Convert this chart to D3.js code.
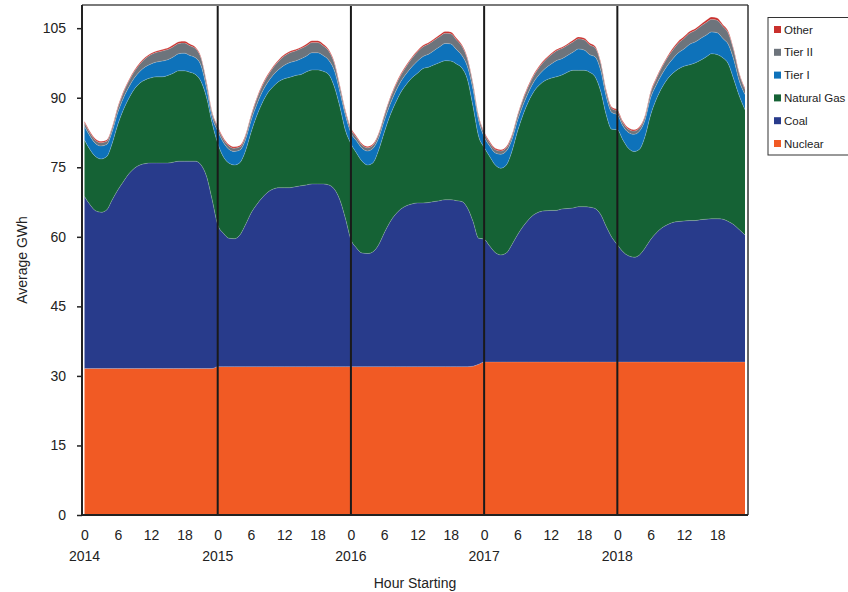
<!DOCTYPE html>
<html><head><meta charset="utf-8">
<script src="https://cdn.jsdelivr.net/npm/d3@7"></script>
<style>
html,body{margin:0;padding:0;background:#fff;}
svg{display:block;font-family:"Liberation Sans",Arial,sans-serif;}
</style></head>
<body><svg id="chart" width="848" height="592"></svg>
<script>
// ---- data (hourly averages, 24 per year) ----
const years = ["2014","2015","2016","2017","2018"];
const hourLabels = ["0","6","12","18"];
const hourTicks = [0,6,12,18];
const seriesNames = ["Nuclear","Coal","Natural Gas","Tier I","Tier II","Other"];
const colors = ["#F15A24","#283B8B","#156235","#0E72BA","#6D747C","#C9302C"];

const nuclear = [
 31.6,31.6,31.6,31.6,31.6,31.6,31.6,31.6,31.6,31.6,31.6,31.6,31.6,31.6,31.6,31.6,31.6,31.6,31.6,31.6,31.6,31.6,31.6,31.6,
 32.0,32.0,32.0,32.0,32.0,32.0,32.0,32.0,32.0,32.0,32.0,32.0,32.0,32.0,32.0,32.0,32.0,32.0,32.0,32.0,32.0,32.0,32.0,32.0,
 32.0,32.0,32.0,32.0,32.0,32.0,32.0,32.0,32.0,32.0,32.0,32.0,32.0,32.0,32.0,32.0,32.0,32.0,32.0,32.0,32.0,32.0,32.1,32.5,
 33.0,33.0,33.0,33.0,33.0,33.0,33.0,33.0,33.0,33.0,33.0,33.0,33.0,33.0,33.0,33.0,33.0,33.0,33.0,33.0,33.0,33.0,33.0,33.0,
 33.0,33.0,33.0,33.0,33.0,33.0,33.0,33.0,33.0,33.0,33.0,33.0,33.0,33.0,33.0,33.0,33.0,33.0,33.0,33.0,33.0,33.0,33.0,33.0];
const coal = [
 37.1,35.3,34.0,33.7,34.2,36.4,38.5,40.3,42.0,43.2,43.9,44.2,44.3,44.3,44.3,44.3,44.5,44.7,44.7,44.7,44.7,43.9,41.4,36.4,
 30.6,28.8,27.7,27.6,28.4,30.6,33.1,34.9,36.4,37.6,38.3,38.6,38.6,38.6,38.8,39.0,39.2,39.4,39.4,39.4,39.2,38.3,36.0,32.0,
 27.4,25.6,24.5,24.4,24.8,26.3,28.8,31.1,32.8,34.0,34.7,35.1,35.3,35.3,35.4,35.6,35.8,36.0,36.0,35.8,35.6,34.2,31.2,27.2,
 26.5,25.0,23.6,23.1,23.5,25.3,27.4,29.2,30.7,31.8,32.4,32.6,32.7,32.7,33.0,33.1,33.2,33.5,33.5,33.4,33.1,31.8,29.2,26.9,
 25.3,23.8,22.9,22.6,23.1,24.6,26.4,27.8,28.9,29.6,30.1,30.3,30.4,30.5,30.5,30.7,30.8,30.9,30.9,30.8,30.3,29.6,28.5,27.4];
const naturalGas = [
 12.2,11.9,11.7,11.5,11.5,12.2,14.1,15.5,16.3,17.1,17.7,18.1,18.4,18.6,18.6,18.9,19.2,19.5,19.5,19.2,18.7,18.0,17.0,16.5,
 17.6,16.5,16.2,15.9,15.6,15.9,17.4,19.1,20.4,21.4,22.1,22.9,23.5,23.8,24.0,24.0,24.4,24.6,24.6,24.3,23.8,22.1,20.1,19.0,
 20.7,20.5,19.8,19.1,19.2,20.4,21.7,22.9,24.0,25.2,26.2,27.2,28.0,29.0,29.2,29.5,29.8,30.0,29.9,29.5,28.8,27.7,24.8,22.0,
 19.8,19.3,18.9,18.7,19.0,20.1,22.3,24.1,25.5,26.6,27.4,28.1,28.5,28.8,28.9,29.4,29.7,29.4,29.4,29.1,28.4,26.6,24.1,23.3,
 24.8,24.1,23.2,22.8,22.8,24.1,26.9,28.8,30.2,31.4,32.2,32.9,33.4,33.6,34.0,34.4,35.0,35.6,35.4,34.8,34.0,31.3,28.8,27.0];
const tierI = [
 2.9,2.9,2.8,2.8,2.6,2.5,2.6,2.5,2.4,2.4,2.5,2.8,3.0,3.2,3.4,3.4,3.5,3.7,3.8,3.6,3.6,3.4,2.0,1.3,
 2.6,3.1,3.0,2.9,2.7,2.4,2.5,2.4,2.4,2.3,2.5,2.6,2.9,3.2,3.1,3.4,3.4,3.7,3.7,3.4,3.1,3.5,3.2,3.2,
 2.3,2.6,2.8,3.0,3.1,2.6,2.5,2.4,2.4,2.3,2.3,2.4,2.6,2.6,2.8,3.1,3.4,3.7,3.7,3.1,2.7,2.8,3.6,3.4,
 2.3,2.3,2.6,3.0,3.0,2.5,2.3,2.1,2.0,2.1,2.3,2.6,3.0,3.5,3.5,3.6,3.9,4.6,4.4,3.8,4.3,4.5,3.9,3.6,
 3.2,3.0,3.4,3.7,3.9,3.5,3.7,3.1,2.9,2.9,3.1,3.5,3.7,4.4,4.5,4.7,4.7,4.7,4.7,4.2,4.2,4.2,3.2,3.3];
const tierII = [
 0.8,0.7,0.7,0.7,0.7,0.8,1.0,1.2,1.3,1.4,1.6,1.8,2.0,2.1,2.2,2.2,2.2,2.2,2.2,2.1,2.0,1.6,1.2,0.9,
 0.8,0.7,0.7,0.7,0.7,0.8,1.0,1.2,1.3,1.4,1.6,1.8,2.0,2.1,2.2,2.2,2.2,2.2,2.2,2.1,2.0,1.6,1.2,0.9,
 0.8,0.7,0.7,0.7,0.7,0.8,1.0,1.2,1.3,1.4,1.6,1.8,2.0,2.1,2.2,2.2,2.2,2.2,2.2,2.1,2.0,1.6,1.2,0.9,
 0.8,0.7,0.7,0.7,0.7,0.8,1.0,1.2,1.3,1.4,1.6,1.8,2.0,2.1,2.2,2.2,2.2,2.2,2.2,2.1,2.0,1.6,1.2,0.9,
 0.8,0.7,0.7,0.7,0.7,0.8,1.1,1.3,1.5,1.7,1.9,2.1,2.3,2.4,2.5,2.6,2.7,2.7,2.7,2.6,2.4,2.0,1.5,1.1];
const other = [
 0.3,0.3,0.3,0.3,0.3,0.3,0.3,0.3,0.3,0.3,0.3,0.3,0.3,0.3,0.3,0.3,0.4,0.4,0.4,0.4,0.3,0.3,0.3,0.3,
 0.3,0.3,0.3,0.3,0.3,0.3,0.3,0.3,0.3,0.3,0.3,0.3,0.3,0.3,0.3,0.3,0.4,0.4,0.4,0.4,0.3,0.3,0.3,0.3,
 0.3,0.3,0.3,0.3,0.3,0.3,0.3,0.3,0.3,0.3,0.3,0.3,0.3,0.3,0.3,0.3,0.4,0.4,0.4,0.4,0.3,0.3,0.3,0.3,
 0.3,0.3,0.3,0.3,0.3,0.3,0.3,0.3,0.3,0.3,0.3,0.3,0.3,0.3,0.3,0.3,0.4,0.4,0.4,0.4,0.3,0.3,0.3,0.3,
 0.3,0.3,0.3,0.3,0.3,0.3,0.3,0.3,0.3,0.3,0.4,0.4,0.4,0.4,0.4,0.4,0.5,0.5,0.5,0.4,0.4,0.3,0.3,0.3];
const yTicks = [0,15,30,45,60,75,90,105];

// ---- build table ----
const seriesArrays = [nuclear, coal, naturalGas, tierI, tierII, other];
const table = nuclear.map((_, i) => {
  const row = {i};
  seriesNames.forEach((s, k) => row[s] = seriesArrays[k][i]);
  return row;
});
const n = table.length, perYear = n / years.length;

const svg = d3.select("#chart");
const plot = {left: 82, right: 748, top: 5, bottom: 515};
const x = d3.scaleLinear().domain([0, n - 1]).range([84.5, 745]);
const y = d3.scaleLinear().domain([0, 110]).range([plot.bottom, plot.top]);

const stacked = d3.stack().keys(seriesNames)(table);
const area = d3.area().curve(d3.curveMonotoneX)
  .x(d => x(d.data.i)).y0(d => y(d[0])).y1(d => y(d[1]));
const topLine = d3.line().curve(d3.curveMonotoneX)
  .x(d => x(d.data.i)).y(d => y(d[1]));

svg.append("g").selectAll("path").data(stacked).join("path")
  .attr("d", area).attr("fill", (d, k) => colors[k]);
svg.append("g").selectAll("path").data(stacked).join("path")
  .attr("d", topLine).attr("fill", "none")
  .attr("stroke", "#ffffff").attr("stroke-opacity", 0.3).attr("stroke-width", 0.7);

// year separators
svg.append("g").selectAll("line").data(years.slice(1)).join("line")
  .attr("x1", (d, k) => x((k + 1) * perYear)).attr("x2", (d, k) => x((k + 1) * perYear))
  .attr("y1", plot.top).attr("y2", plot.bottom)
  .attr("stroke", "#1a1a1a").attr("stroke-width", 2);

// frame
svg.append("line").attr("x1", plot.left).attr("x2", plot.right).attr("y1", plot.top).attr("y2", plot.top)
  .attr("stroke", "#7a7a7a").attr("stroke-width", 2);
svg.append("line").attr("x1", plot.right).attr("x2", plot.right).attr("y1", plot.top).attr("y2", plot.bottom)
  .attr("stroke", "#333").attr("stroke-width", 1.5);

// y axis
const yAxis = svg.append("g").attr("transform", `translate(${plot.left},0)`)
  .call(d3.axisLeft(y).tickValues(yTicks).tickSize(5).tickPadding(11).tickSizeOuter(0));
yAxis.select(".domain").attr("stroke", "#222").attr("stroke-width", 2)
  .attr("d", `M0,${plot.top}V${plot.bottom}`);
yAxis.selectAll(".tick line").attr("stroke", "#222").attr("stroke-width", 1.5);
yAxis.selectAll("text").attr("font-size", 14).attr("fill", "#222")
  .attr("font-family", "'Liberation Sans',Arial,sans-serif");

// x axis
const xTickVals = [];
const xTickText = [];
years.forEach((yr, k) => hourTicks.forEach((h, j) => { xTickVals.push(k * perYear + h); xTickText.push(hourLabels[j]); }));
const xAxis = svg.append("g").attr("transform", `translate(0,${plot.bottom})`)
  .call(d3.axisBottom(x).tickValues(xTickVals).tickSize(0).tickPadding(15)
    .tickFormat((d, k) => xTickText[k]));
xAxis.select(".domain").attr("stroke", "#222").attr("stroke-width", 2)
  .attr("d", `M${plot.left},0H${plot.right}`);
xAxis.selectAll("text").attr("font-size", 14).attr("fill", "#222")
  .attr("font-family", "'Liberation Sans',Arial,sans-serif");

svg.append("g").selectAll("text").data(years).join("text")
  .attr("x", (d, k) => x(k * perYear)).attr("y", 561)
  .attr("text-anchor", "middle").attr("font-size", 14).attr("fill", "#222").text(d => d);

svg.append("text").attr("x", 415).attr("y", 588).attr("text-anchor", "middle")
  .attr("font-size", 14).attr("fill", "#222").text("Hour Starting");
svg.append("text").attr("transform", "translate(27,260) rotate(-90)").attr("text-anchor", "middle")
  .attr("font-size", 14).attr("fill", "#222").text("Average GWh");

// legend
const lg = svg.append("g");
lg.append("rect").attr("x", 768).attr("y", 17.5).attr("width", 90).attr("height", 137.5)
  .attr("fill", "#fff").attr("stroke", "#333").attr("stroke-width", 1);
const legendOrder = seriesNames.slice().reverse();
const item = lg.selectAll("g.item").data(legendOrder).join("g")
  .attr("transform", (d, k) => `translate(774,${29.5 + k * 22.8})`);
item.append("rect").attr("x", 0).attr("y", -3.5).attr("width", 7).attr("height", 7)
  .attr("fill", d => colors[seriesNames.indexOf(d)]);
item.append("text").attr("x", 10).attr("y", 0).attr("dy", "0.35em")
  .attr("font-size", 11.5).attr("fill", "#222").text(d => d);
</script></body></html>
